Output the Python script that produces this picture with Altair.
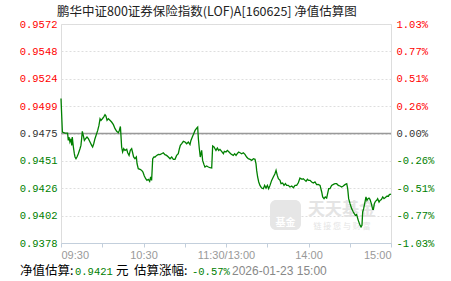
import json
import altair as alt
import pandas as pd

# ---- data (percent change vs. previous NAV 0.9475) ----
minutes = [
    0.0, 1.0, 2.9, 4.8, 5.3, 5.8, 6.5, 7.3, 7.8, 8.2, 9.0, 9.7, 10.2, 10.9, 11.6, 12.6,
    13.8, 14.5, 15.0, 15.5, 16.2, 17.0, 17.9, 18.9, 19.9, 21.1, 22.3, 23.0, 23.8, 24.7,
    25.9, 26.7, 27.6, 28.4, 29.1, 30.1, 31.0, 32.0, 32.7, 33.5, 34.4, 35.6, 36.8, 38.1,
    39.3, 40.5, 41.7, 42.4, 43.2, 43.6, 44.1, 44.8, 45.6, 46.5, 47.8, 48.5, 49.5, 50.4,
    51.4, 52.1, 52.8, 53.8, 54.8, 55.3, 56.2, 57.5, 58.7, 59.6, 60.6, 61.6, 62.5, 63.5,
    64.5, 65.2, 65.9, 66.7, 67.6, 68.4, 69.6, 70.8, 72.0, 73.2, 74.4, 75.6, 76.8, 78.1,
    79.3, 80.5, 81.7, 82.9, 84.1, 85.3, 86.1, 86.8, 87.8, 89.0, 90.2, 91.4, 92.6, 93.8,
    94.5, 95.5, 96.5, 97.5, 98.7, 99.4, 99.9, 100.6, 101.3, 102.3, 103.0, 104.0, 104.7,
    105.9, 107.2, 108.4, 109.6,
    110.3, 111.3, 112.0, 112.7, 113.7, 114.7, 115.6, 116.8, 118.1, 118.8, 120.0, 121.0,
    122.2, 123.4, 124.4, 125.3, 126.3, 127.3, 128.2, 129.2, 130.2, 131.4, 132.6, 133.8,
    135.0, 136.2, 137.5, 138.7, 139.9, 141.1, 141.8, 142.3, 143.0, 143.8, 144.7, 145.9,
    147.2, 148.1, 149.1, 150.1, 151.0, 152.0, 153.2, 154.4, 155.6, 156.4, 157.3, 158.1,
    159.3, 160.0, 161.2, 162.2, 163.2, 164.1, 165.3, 166.5, 167.8, 169.0, 170.2, 171.4,
    172.6, 173.8, 174.5, 175.3, 176.2, 177.5, 178.2, 179.2, 180.1, 181.1, 182.3, 183.5,
    184.7, 185.9, 187.1, 188.4, 189.6, 190.3, 191.3, 192.2, 193.2, 193.9, 194.7, 195.6,
    196.8, 198.1, 199.3, 200.5, 201.7, 202.9, 204.1, 205.3, 206.5, 207.8, 208.5, 209.2,
    210.2, 211.4, 212.6, 213.3, 214.1, 215.0, 216.2, 217.5, 218.2, 218.9, 219.4, 220.1,
    221.1, 221.8, 222.5, 223.3, 224.0, 224.7, 225.7, 226.7, 227.2, 227.9, 228.7, 229.6,
    230.3, 231.3, 232.0, 233.0, 234.0, 234.9, 235.9, 237.2, 238.1, 238.8, 240.0,
]
pct = [
    0.330, 0.014, 0.004, 0.004, -0.065, -0.033, -0.080, -0.049, -0.112, -0.033, -0.127,
    -0.190, -0.221, -0.237, -0.221, -0.190, -0.143, -0.112, -0.049, 0.020, -0.018, -0.065,
    -0.049, -0.033, -0.049, -0.080, -0.112, -0.127, -0.096, -0.049, -0.002, 0.029, 0.076,
    0.139, 0.124, 0.139, 0.155, 0.177, 0.164, 0.124, 0.139, 0.124, 0.108, 0.083, 0.045,
    0.020, 0.008, 0.029, 0.066, -0.018, -0.127, -0.174, -0.143, -0.159, -0.149, -0.181,
    -0.206, -0.159, -0.143, -0.181, -0.221, -0.237, -0.221, -0.284, -0.331, -0.337, -0.347,
    -0.362, -0.400, -0.425, -0.441, -0.431, -0.450, -0.409, -0.441, -0.237, -0.221, -0.221,
    -0.206, -0.196, -0.199, -0.190, -0.181, -0.199, -0.206, -0.221, -0.237, -0.221, -0.243,
    -0.243, -0.206, -0.190, -0.143, -0.112, -0.096, -0.074, -0.080, -0.096, -0.080, -0.105,
    -0.065, -0.033, -0.002, 0.029, 0.051, 0.061, -0.049, -0.143, -0.221, -0.159, -0.253,
    -0.293, -0.315, -0.306, -0.315, -0.322, -0.325,
    -0.118, -0.127, -0.143, -0.159, -0.137, -0.159, -0.149, -0.168, -0.190, -0.168, -0.174,
    -0.159, -0.174, -0.190, -0.199, -0.206, -0.190, -0.206, -0.190, -0.174, -0.181, -0.190,
    -0.181, -0.196, -0.221, -0.237, -0.243, -0.253, -0.237, -0.243, -0.284, -0.347, -0.409,
    -0.456, -0.488, -0.513, -0.519, -0.488, -0.513, -0.488, -0.519, -0.488, -0.441, -0.409,
    -0.378, -0.347, -0.394, -0.425, -0.441, -0.472, -0.466, -0.488, -0.472, -0.488, -0.488,
    -0.503, -0.494, -0.510, -0.488, -0.488, -0.463, -0.419, -0.425, -0.431, -0.425, -0.441,
    -0.450, -0.431, -0.441, -0.441, -0.456, -0.466, -0.456, -0.481, -0.478, -0.488, -0.550,
    -0.597, -0.613, -0.597, -0.607, -0.566, -0.519, -0.519, -0.488, -0.478, -0.472, -0.472,
    -0.488, -0.494, -0.503, -0.494, -0.481, -0.472, -0.519, -0.613, -0.660, -0.707, -0.738,
    -0.754, -0.770, -0.763, -0.817, -0.864, -0.880, -0.864, -0.738, -0.707, -0.644, -0.597,
    -0.629, -0.613, -0.607, -0.619, -0.660, -0.713, -0.713, -0.660, -0.638, -0.629, -0.613,
    -0.644, -0.629, -0.622, -0.597, -0.613, -0.603, -0.588, -0.591, -0.575, -0.570,
]

left_labels = ["0.9378", "0.9402", "0.9426", "0.9451", "0.9475",
               "0.9499", "0.9524", "0.9548", "0.9572"]
right_labels = ["-1.03%", "-0.77%", "-0.51%", "-0.26%", "0.00%",
                "0.26%", "0.51%", "0.77%", "1.03%"]
time_labels = ["09:30", "10:30", "11:30/13:00", "14:00", "15:00"]

title_text = "鹏华中证800证券保险指数(LOF)A[160625] 净值估算图"
footer_parts = ["净值估算:", "0.9421", "元", "估算涨幅:", "-0.57%", "2026-01-23 15:00"]

# ---- styling ----
GREEN = "#008000"
RED = "#ff0000"
CJK = "Noto Sans CJK SC"
MONO = "Liberation Mono"

PMAX = 1.03
STEP = PMAX * 2 / 8
y_ticks = [round(-PMAX + i * STEP, 5) for i in range(9)]
yscale = alt.Scale(domain=[-PMAX, PMAX], nice=False, zero=False)
idx = f"round((datum.value + {PMAX}) / {STEP})"
color_expr = (f"datum.value > 0.001 ? '{RED}' : "
              f"(datum.value < -0.001 ? '{GREEN}' : '#333333')")

df = pd.DataFrame({"m": minutes, "pct": pct})

left_axis = alt.Axis(
    values=y_ticks, labelExpr=f"{json.dumps(left_labels)}[{idx}]",
    labelColor=alt.ExprRef(expr=color_expr), labelFont=MONO, labelFontSize=10.5,
    labelPadding=4, ticks=False, domain=False, grid=True, gridColor="#dedede",
    gridDash=[2, 2], gridWidth=1, title=None,
)
right_axis = alt.Axis(
    orient="right", values=y_ticks, labelExpr=f"{json.dumps(right_labels)}[{idx}]",
    labelColor=alt.ExprRef(expr=color_expr), labelFont=MONO, labelFontSize=10.5,
    labelPadding=5, ticks=False, domain=False, grid=False, title=None,
)
x_axis = alt.Axis(
    values=list(range(0, 241, 30)),
    labelExpr=f"datum.value % 60 == 0 ? {json.dumps(time_labels)}[datum.value / 60] : ''",
    labelFlush=True, labelColor="#999999", labelFont="Liberation Sans", labelFontSize=11,
    labelPadding=2, tickSize=4, tickColor="#c3cfdc", domainColor="#c3cfdc",
    grid=False, title=None, labelOverlap=False,
)
xscale = alt.Scale(domain=[0, 240], nice=False, zero=False)

line = alt.Chart(df).mark_line(color=GREEN, strokeWidth=1.3, interpolate="linear").encode(
    x=alt.X("m:Q", scale=xscale, axis=x_axis),
    y=alt.Y("pct:Q", scale=yscale, axis=left_axis),
    order="m:Q",
)

zero = alt.Chart(alt.Data(values=[{"pct": 0}])).mark_rule(
    color="#999999", strokeWidth=1.5
).encode(y=alt.Y("pct:Q", scale=yscale, axis=right_axis))


def txt(s, x, y, color="#000000", font=CJK, size=12, weight="normal", align="left"):
    return alt.Chart(alt.Data(values=[{"t": s}])).mark_text(
        align=align, baseline="alphabetic", font=font, fontSize=size,
        fontWeight=weight, color=color,
    ).encode(x=alt.value(x), y=alt.value(y), text="t:N")


# watermark (faint)
logo = alt.Chart(alt.Data(values=[{"a": 1}])).mark_rect(
    color="#e6e6e6", cornerRadius=6
).encode(x=alt.value(209), x2=alt.value(240), y=alt.value(176), y2=alt.value(206))
wm = [
    logo,
    txt("基金", 224.5, 202, color="#ffffff", size=10, weight="bold", align="center"),
    txt("天天基金", 281, 191, color="#e4e4e4", size=17, weight="bold", align="center"),
    txt("链 接 您 与 财 富", 281, 205, color="#e4e4e4", size=8, align="center"),
]

title = txt(title_text, -4, -8, color="#222222", size=12.5)
footer = [
    txt(footer_parts[0], -41, 251, color="#000000", size=12.5),
    txt(footer_parts[1], 14, 251, color=GREEN, font=MONO, size=10.5),
    txt(footer_parts[2], 55, 251, color="#000000", size=12.5),
    txt(footer_parts[3], 73, 251, color="#000000", size=12.5),
    txt(footer_parts[4], 131, 251, color=GREEN, font=MONO, size=10.5),
    txt(footer_parts[5], 171, 251, color="#888888", font="Liberation Sans", size=12),
]

chart = alt.layer(
    *wm, zero, line, title, *footer
).resolve_scale(y="independent").properties(
    width=330, height=219,
    autosize=alt.AutoSizeParams(type="none"),
    padding={"left": 61, "top": 24, "right": 60, "bottom": 38},
).configure_view(stroke=None).configure(background="#ffffff")

chart.save("out.html", embed_options={"renderer": "svg", "actions": False})
